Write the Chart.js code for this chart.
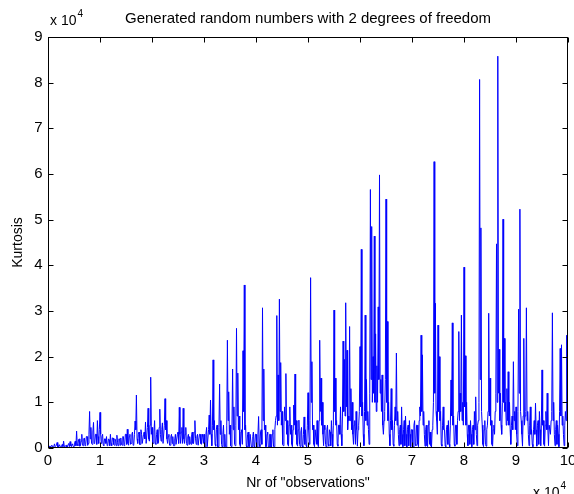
<!DOCTYPE html>
<html>
<head>
<meta charset="utf-8">
<script src="https://cdn.jsdelivr.net/npm/chart.js@4/dist/chart.umd.min.js"></script>
<style>
  html, body { margin: 0; padding: 0; background: #fff; }
  #wrap { width: 574px; height: 494px; }
</style>
</head>
<body>
<div id="wrap"><canvas id="kurtosisChart" width="574" height="494"></canvas></div>
<script>
// kurtosis, in units of 10^4, one value every 0.0125 x 10^4 observations
const kurtosisE4 = [
  0.01,0.03,0.04,0.02,0.02,0.05,0.06,0.02,0.02,0.04, 0.09,0.03,0.03,0.06,0.12,0.02,0.02,0.07,0.05,0.02,
  0.03,0.06,0.08,0.03,0.15,0.04,0.03,0.05,0.06,0.02, 0.02,0.08,0.1,0.03,0.14,0.05,0.03,0.09,0.07,0.03,
  0.04,0.12,0.15,0.05,0.37,0.08,0.05,0.18,0.2,0.04, 0.06,0.15,0.3,0.06,0.05,0.2,0.22,0.05,0.08,0.25,
  0.25,0.06,0.1,0.3,0.8,0.2,0.45,0.1,0.08,0.35, 0.56,0.1,0.12,0.3,0.3,0.08,0.6,0.25,0.1,0.4,
  0.78,0.3,0.1,0.25,0.3,0.06,0.05,0.2,0.2,0.1, 0.25,0.05,0.06,0.2,0.18,0.05,0.3,0.1,0.05,0.22,
  0.22,0.08,0.06,0.2,0.15,0.05,0.28,0.12,0.05,0.2, 0.2,0.06,0.22,0.08,0.06,0.25,0.25,0.05,0.08,0.3,
  0.3,0.08,0.41,0.1,0.06,0.25,0.3,0.08,0.1,0.3, 0.35,0.06,0.08,0.3,0.59,0.4,1.16,0.2,0.1,0.3,
  0.35,0.08,0.08,0.4,0.3,0.1,0.1,0.3,0.35,0.2, 0.57,0.1,0.1,0.45,0.87,0.2,0.15,0.5,1.55,0.3,
  0.45,0.1,0.1,0.35,0.6,0.1,0.08,0.3,0.4,0.1, 0.12,0.45,0.85,0.3,0.15,0.4,0.55,0.1,0.1,0.5,
  1.08,0.4,0.6,0.2,0.1,0.25,0.3,0.06,0.06,0.25, 0.3,0.1,0.25,0.05,0.05,0.2,0.3,0.08,0.08,0.3,
  0.35,0.1,0.89,0.3,0.1,0.35,0.45,0.1,0.87,0.2, 0.1,0.3,0.45,0.1,0.06,0.25,0.3,0.08,0.25,0.1,
  0.08,0.3,0.35,0.1,0.1,0.35,0.6,0.2,0.08,0.25, 0.3,0.06,0.06,0.3,0.3,0.1,0.08,0.3,0.25,0.1,
  0.3,0.03,0.02,0.3,0.45,0.03,0.03,0.4,0.72,0.3, 1.05,0.3,0.05,0.5,1.93,0.4,0.6,0.08,0.04,0.4,
  0.5,0.03,0.03,0.45,1.4,0.3,0.6,0.08,0.02,0.3, 0.5,0.03,0.3,0.03,0.02,0.5,2.36,0.6,1.23,0.3,
  0.5,0.05,0.03,0.4,1.73,0.4,0.9,0.08,0.05,0.5, 2.62,0.7,1.64,0.4,0.7,0.08,0.03,0.35,0.4,0.08,
  2.13,0.8,3.57,0.4,0.5,0.05,0.02,0.3,0.35,0.03, 0.03,0.3,0.3,0.02,0.02,0.25,0.35,0.03,0.02,0.3,
  0.3,0.03,0.02,0.3,0.69,0.08,0.03,0.35,0.4,0.08, 3.07,0.6,1.73,0.4,0.5,0.03,0.03,0.3,0.35,0.02,
  0.02,0.3,0.3,0.02,0.02,0.3,0.4,0.03,0.03,0.4, 0.6,0.7,2.9,0.5,1.6,0.6,3.26,0.8,1.87,0.5,
  0.8,0.08,0.05,0.5,0.9,0.6,1.63,0.3,0.6,0.08, 0.04,0.5,0.9,0.3,0.5,0.08,0.03,0.4,0.94,0.5,
  1.62,0.3,0.6,0.08,0.04,0.4,0.61,0.08,0.03,0.35, 0.45,0.05,0.02,0.3,0.68,0.08,0.4,0.05,0.03,0.5,
  1.21,0.4,0.08,0.6,3.73,1.0,1.89,0.4,0.5,0.08, 0.03,0.4,0.4,0.08,0.6,0.08,0.03,0.6,2.36,0.8,
  1.53,0.5,1.0,0.3,0.05,0.5,0.4,0.08,0.02,0.4, 0.5,0.08,0.04,0.4,0.35,0.05,0.6,0.3,0.03,0.5,
  3.02,0.8,1.53,0.5,0.6,0.08,0.04,0.5,0.5,0.3, 0.9,0.3,0.05,0.7,2.34,0.8,1.94,0.7,3.18,0.9,
  2.14,0.4,0.7,0.6,2.66,0.6,1.3,0.4,1.0,0.3, 0.08,0.5,0.6,0.08,0.8,0.4,0.04,0.4,0.5,0.8,
  2.22,0.9,4.35,0.7,1.0,0.3,0.05,0.8,2.91,0.6, 1.5,0.5,0.8,0.4,0.08,1.2,5.66,1.5,4.85,1.0,
  2.0,1.2,4.64,1.0,2.5,0.8,1.8,1.0,3.09,1.5, 5.98,1.2,1.5,0.8,1.6,0.5,0.3,0.6,0.8,1.5,
  5.45,1.0,2.77,0.6,1.0,0.3,0.05,0.6,1.3,0.4, 0.6,0.08,0.04,0.5,0.9,0.6,2.08,0.5,0.8,0.3,
  0.05,0.4,0.5,0.08,0.9,0.3,0.03,0.4,0.6,0.05, 0.7,0.3,0.02,0.4,0.5,0.05,0.6,0.3,0.03,0.4,
  0.4,0.05,0.02,0.5,0.6,0.08,0.05,0.5,0.5,0.08, 0.03,0.6,0.9,0.7,2.47,0.8,2.04,0.5,0.8,0.3,
  0.04,0.4,0.5,0.05,0.03,0.5,0.6,0.08,0.35,0.05, 0.02,0.4,0.5,1.0,6.27,1.2,3.17,0.8,0.6,0.3,
  2.69,0.8,2.0,0.6,0.8,0.08,0.04,0.5,0.9,0.4, 0.4,0.05,0.03,0.4,0.5,0.08,0.6,0.08,0.03,0.5,
  1.49,0.7,2.74,0.5,0.7,0.08,0.04,0.5,0.5,0.08, 0.6,0.8,2.55,0.6,1.2,0.8,2.91,0.6,1.0,0.5,
  3.96,0.9,2.02,0.5,1.0,0.3,0.05,0.5,0.5,0.08, 0.6,0.3,0.03,0.4,0.5,0.08,0.8,0.4,1.12,0.3,
  0.05,0.5,0.6,1.0,8.07,1.5,4.82,0.8,0.5,0.08, 0.03,0.4,0.6,0.08,0.04,0.4,0.5,0.8,2.95,0.7,
  1.53,0.5,0.6,0.08,0.04,0.4,0.5,0.3,0.8,1.2, 4.47,1.0,8.58,1.2,2.16,0.6,1.2,0.5,0.3,1.0,
  5.01,1.0,2.4,0.8,1.0,0.5,1.3,0.6,1.67,0.5, 1.0,0.4,0.08,0.5,0.7,0.4,1.89,0.6,0.8,0.4,
  0.9,0.3,0.05,0.8,3.04,1.2,5.23,0.8,0.6,0.3, 0.04,0.7,2.4,0.5,0.7,0.8,3.07,0.6,0.8,0.3,
  0.05,0.5,0.9,0.3,0.4,0.08,0.03,0.4,0.6,0.3, 0.98,0.4,0.04,0.5,0.6,0.08,0.8,0.4,0.05,0.5,
  1.71,0.5,0.6,0.08,0.04,0.5,0.8,0.4,1.2,0.4, 0.05,0.5,0.5,0.3,0.6,0.8,2.96,0.6,1.0,0.3,
  0.05,0.4,0.6,0.08,0.5,0.3,0.03,0.8,2.18,0.7, 2.26,0.5,0.7,0.3,0.05,0.5,0.8,0.6,2.47,0.8,
  1.12
];
const obsStepE4 = 0.0125;
const xTicks = [0, 1, 2, 3, 4, 5, 6, 7, 8, 9, 10];
const yTicks = [0, 1, 2, 3, 4, 5, 6, 7, 8, 9];

const titleText = 'Generated random numbers with 2 degrees of freedom';
const xLabel = 'Nr of "observations"';
const yLabel = 'Kurtosis';
const FONT = '"Liberation Sans", Arial, sans-serif';

const matlabAxes = {
    id: 'matlabAxes',
    afterDraw(chart) {
        const { ctx, chartArea: { left, right, top, bottom }, scales: { x, y } } = chart;
        ctx.save();
        ctx.strokeStyle = '#000';
        ctx.lineWidth = 1;
        const L = Math.round(left) + 0.5, R = Math.round(right) - 0.5;
        const T = Math.round(top) + 0.5, B = Math.round(bottom) - 0.5;
        ctx.strokeRect(L, T, R - L, B - T);

        // inward ticks on all four sides
        ctx.beginPath();
        xTicks.forEach(v => {
            const px = Math.round(x.getPixelForValue(v)) + 0.5;
            ctx.moveTo(px, B); ctx.lineTo(px, B - 5);
            ctx.moveTo(px, T); ctx.lineTo(px, T + 5);
        });
        yTicks.forEach(v => {
            const py = Math.round(y.getPixelForValue(v)) + 0.5;
            ctx.moveTo(L, py); ctx.lineTo(L + 5, py);
            ctx.moveTo(R, py); ctx.lineTo(R - 5, py);
        });
        ctx.stroke();

        ctx.fillStyle = '#000';
        ctx.font = '15px ' + FONT;
        ctx.textAlign = 'center';
        ctx.textBaseline = 'top';
        xTicks.forEach(v => ctx.fillText(String(v), x.getPixelForValue(v), B + 6));
        ctx.textAlign = 'right';
        ctx.textBaseline = 'middle';
        yTicks.forEach(v => ctx.fillText(String(v), L - 6, y.getPixelForValue(v)));

        // titles
        ctx.textAlign = 'center';
        ctx.textBaseline = 'middle';
        ctx.fillText(titleText, (L + R) / 2, 19);
        ctx.font = '14px ' + FONT;
        ctx.fillText(xLabel, (L + R) / 2, 483);
        ctx.save();
        ctx.translate(18, (T + B) / 2);
        ctx.rotate(-Math.PI / 2);
        ctx.fillText(yLabel, 0, 0);
        ctx.restore();

        // exponent markers
        const drawExp = (x0, yBase) => {
            ctx.textAlign = 'left';
            ctx.textBaseline = 'alphabetic';
            ctx.font = '14px ' + FONT;
            ctx.fillText('x 10', x0, yBase);
            const w = ctx.measureText('x 10').width;
            ctx.font = '10px ' + FONT;
            ctx.fillText('4', x0 + w + 1, yBase - 8);
        };
        drawExp(50, 25);
        drawExp(533, 497);
        ctx.restore();
    }
};

new Chart(document.getElementById('kurtosisChart').getContext('2d'), {
    type: 'line',
    data: {
        datasets: [{
            data: kurtosisE4.map((v, i) => ({ x: i * obsStepE4, y: v })),
            borderColor: '#0000ff',
            borderWidth: 1,
            pointRadius: 0,
            tension: 0,
            fill: false
        }]
    },
    options: {
        responsive: false,
        animation: false,
        layout: { padding: { left: 48, right: 6, top: 37, bottom: 46 } },
        plugins: { legend: { display: false }, tooltip: { enabled: false } },
        scales: {
            x: { type: 'linear', min: 0, max: 10, display: false },
            y: { type: 'linear', min: 0, max: 9, display: false }
        }
    },
    plugins: [matlabAxes]
});
</script>
</body>
</html>
